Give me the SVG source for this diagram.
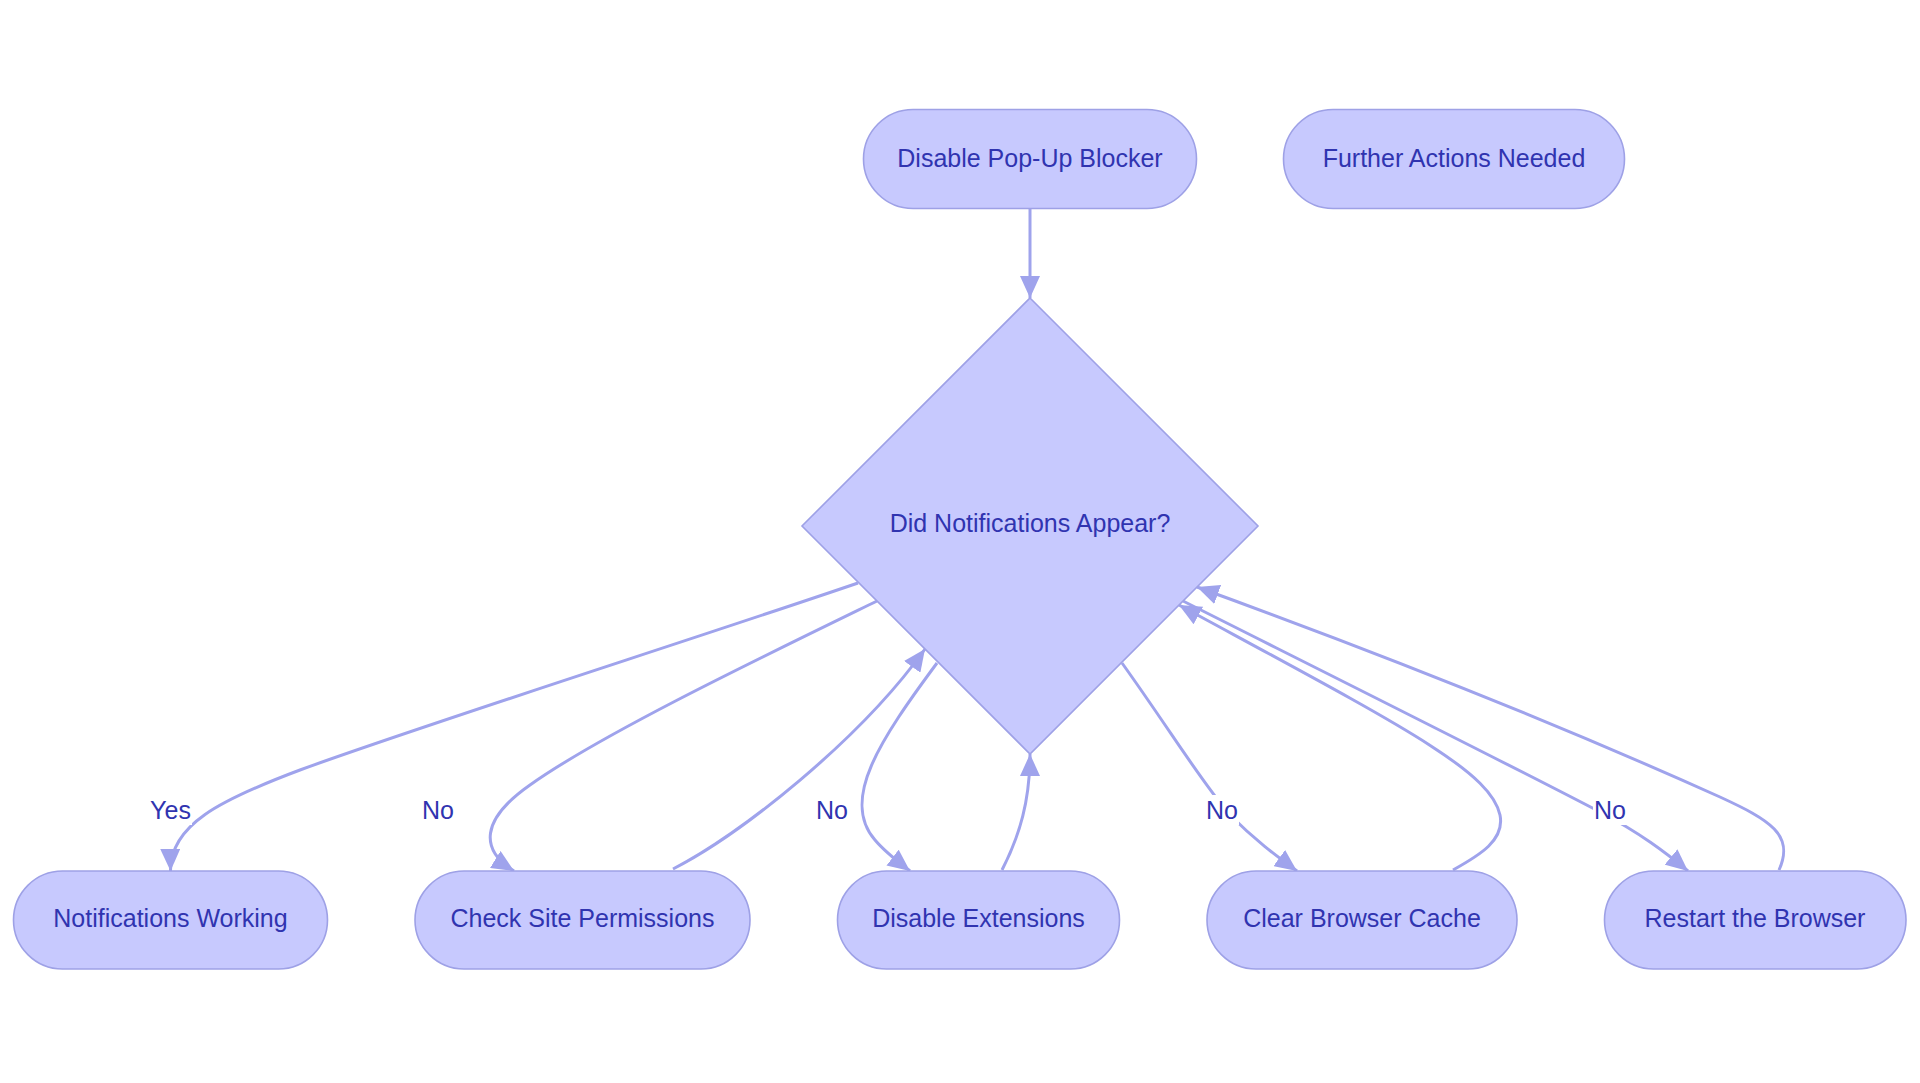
<svg xmlns="http://www.w3.org/2000/svg" width="1920" height="1083" viewBox="0 0 1920 1083">
<style>
.node rect,.node polygon{fill:#c7c9fe;stroke:#9ea1e6;stroke-width:1.6}
.t{font-family:"Liberation Sans",Arial,sans-serif;font-size:25px;fill:#3034b0;text-anchor:middle}
.e{fill:none;stroke:#9fa3ec;stroke-width:3}
.lb{fill:#ffffff}
</style>
<defs>
<marker id="ah" markerUnits="userSpaceOnUse" markerWidth="22" markerHeight="20" viewBox="0 0 22 20" refX="22" refY="10" orient="auto">
<path d="M0,0 L22,10 L0,20 z" fill="#9fa3ec"/>
</marker>
</defs>
<rect width="1920" height="1083" fill="#ffffff"/>
<g id="connectors">
<path class="e" marker-end="url(#ah)" d="M1030,209 L1030,298"/>
<path class="e" marker-end="url(#ah)" d="M858,583 C700,637 420,726 300,770 C220,800 170,825 170.5,871"/>
<path class="e" marker-end="url(#ah)" d="M877,601 C760,658 600,735 530,785 C480,820 480,850 514,871"/>
<path class="e" marker-end="url(#ah)" d="M673,869 C740,835 860,740 925,649"/>
<path class="e" marker-end="url(#ah)" d="M937,663 C880,740 840,800 875,840 C885,852 897,861 910,871"/>
<path class="e" marker-end="url(#ah)" d="M1002,870 C1020,835 1030,800 1030,754"/>
<path class="e" marker-end="url(#ah)" d="M1122,663 C1170,730 1200,780 1230,815 C1255,840 1275,855 1297,871"/>
<path class="e" marker-end="url(#ah)" d="M1453,870 C1480,855 1505,840 1500,815 C1490,770 1400,725 1179,605"/>
<path class="e" marker-end="url(#ah)" d="M1183,601 C1350,685 1520,770 1600,812 C1640,833 1665,852 1688,871"/>
<path class="e" marker-end="url(#ah)" d="M1779,870 C1795,835 1770,820 1720,797 C1560,725 1390,657 1197,587"/>
<g id="edge-labels">
<rect class="lb" x="149" y="795" width="43" height="30"/><text class="t" x="170.5" y="819">Yes</text>
<rect class="lb" x="421" y="795" width="34" height="30"/><text class="t" x="438" y="819">No</text>
<rect class="lb" x="815" y="795" width="34" height="30"/><text class="t" x="832" y="819">No</text>
<rect class="lb" x="1205" y="795" width="34" height="30"/><text class="t" x="1222" y="819">No</text>
<rect class="lb" x="1593" y="795" width="34" height="30"/><text class="t" x="1610" y="819">No</text>
</g>
</g>
<g id="n-popup" class="node"><rect x="863.5" y="109.5" width="333" height="99" rx="49.5"/><text class="t" x="1030" y="167">Disable Pop-Up Blocker</text></g>
<g id="n-further" class="node"><rect x="1283.5" y="109.5" width="341" height="99" rx="49.5"/><text class="t" x="1454" y="167">Further Actions Needed</text></g>
<g id="n-decision" class="node"><polygon points="1030,298 1258,526 1030,754 802,526"/><text class="t" x="1030" y="532">Did Notifications Appear?</text></g>
<g id="n-working" class="node"><rect x="13.5" y="871" width="314" height="98" rx="49"/><text class="t" x="170.5" y="927">Notifications Working</text></g>
<g id="n-perms" class="node"><rect x="415" y="871" width="335" height="98" rx="49"/><text class="t" x="582.5" y="927">Check Site Permissions</text></g>
<g id="n-ext" class="node"><rect x="837.5" y="871" width="282" height="98" rx="49"/><text class="t" x="978.5" y="927">Disable Extensions</text></g>
<g id="n-cache" class="node"><rect x="1207" y="871" width="310" height="98" rx="49"/><text class="t" x="1362" y="927">Clear Browser Cache</text></g>
<g id="n-restart" class="node"><rect x="1604.5" y="871" width="301.5" height="98" rx="49"/><text class="t" x="1755" y="927">Restart the Browser</text></g>
</svg>
